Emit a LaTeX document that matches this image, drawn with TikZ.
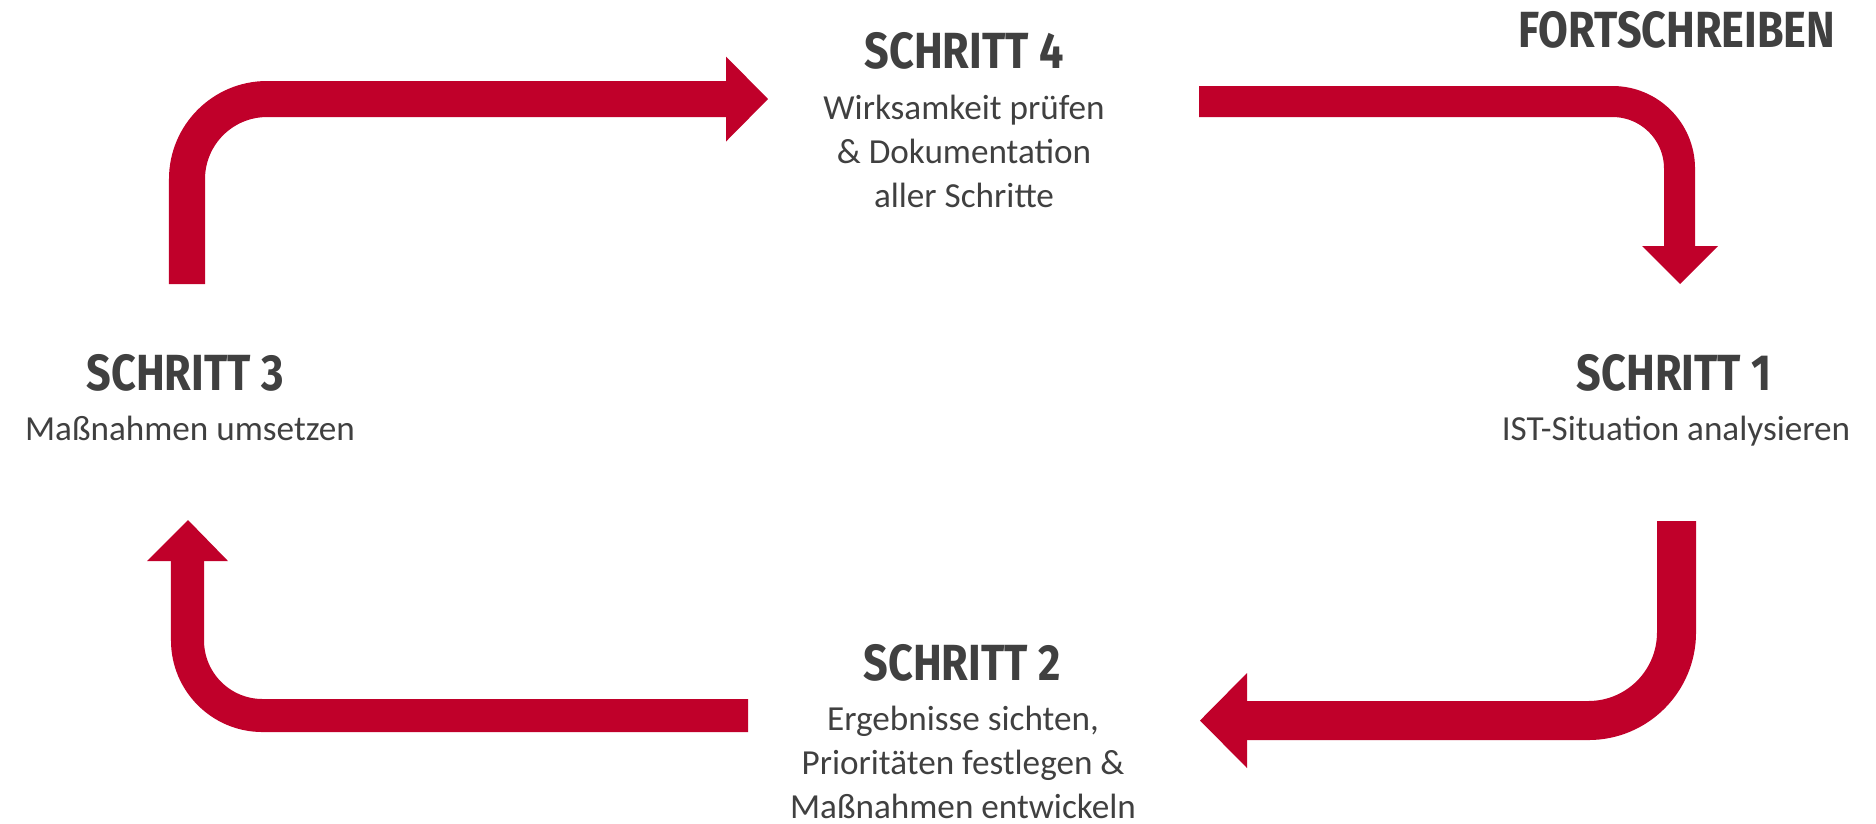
\documentclass[tikz,border=0pt]{standalone}
\usepackage{fontspec}
\setmainfont{Carlito}
\newfontfamily\headfont{Fira Sans}
\usepackage{graphicx}
\usepackage{xcolor}
\definecolor{schrittrot}{RGB}{192,0,42}
\definecolor{textgrau}{RGB}{64,64,64}
\newcommand{\schritttitel}[1]{\scalebox{0.85}[1]{\headfont\bfseries #1}}

\tikzset{
  titel/.style={inner sep=0pt, anchor=base, text=textgrau,
    font=\fontsize{14.45}{17}\selectfont},
  beschr/.style={inner sep=0pt, anchor=base, align=center, text=textgrau,
    font=\fontsize{10}{12.5}\selectfont},
  band/.style={draw=schrittrot, line cap=butt},
  spitze/.style={fill=schrittrot}
}

\begin{document}
\begin{tikzpicture}[x=0.01cm,y=-0.01cm]
        \useasboundingbox (0,0) rectangle (1876,823);
        % steps (multi-line texts sit on their last baseline)
        \node[titel] (fort) at (1677,47) {\schritttitel{FORTSCHREIBEN}};
        \node[titel] (s4) at (964,68) {\schritttitel{SCHRITT 4}};
        \node[beschr] (s4b) at (964,207) {Wirksamkeit prüfen\\\& Dokumentation\\aller Schritte};
        \node[titel] (s1) at (1674,390) {\schritttitel{SCHRITT 1}};
        \node[beschr] (s1b) at (1676,440) {IST-Situation analysieren};
        \node[titel] (s3) at (185,390) {\schritttitel{SCHRITT 3}};
        \node[beschr] (s3b) at (190,440) {Maßnahmen umsetzen};
        \node[titel] (s2) at (962,680) {\schritttitel{SCHRITT 2}};
        \node[beschr] (s2b) at (963,818) {Ergebnisse sichten,\\Prioritäten festlegen \&\\Maßnahmen entwickeln};
        % arrow ends
        \coordinate (p3a) at (187,284);   \coordinate (p3b) at (726,99);
        \coordinate (p4a) at (1199,101.5); \coordinate (p4b) at (1679.5,246);
        \coordinate (p1a) at (1676.5,521); \coordinate (p1b) at (1247,720.5);
        \coordinate (p2a) at (748,715.5);  \coordinate (p2b) at (187.5,561);
        % arrows
        \draw[band,line width=0.36cm,rounded corners=0.8cm] (p3a) |- (p3b);
        \fill[spitze] (726,56.5) -- (768,99) -- (726,141.5) -- cycle;
        \draw[band,line width=0.31cm,rounded corners=0.67cm] (p4a) -| (p4b);
        \fill[spitze] (1642,246) -- (1680,284) -- (1718,246) -- cycle;
        \draw[band,line width=0.39cm,rounded corners=0.88cm] (p1a) |- (p1b);
        \fill[spitze] (1247,673) -- (1200,720.5) -- (1247,768) -- cycle;
        \draw[band,line width=0.33cm,rounded corners=0.75cm] (p2a) -| (p2b);
        \fill[spitze] (147,561) -- (188,520) -- (228,561) -- cycle;
\end{tikzpicture}
\end{document}
